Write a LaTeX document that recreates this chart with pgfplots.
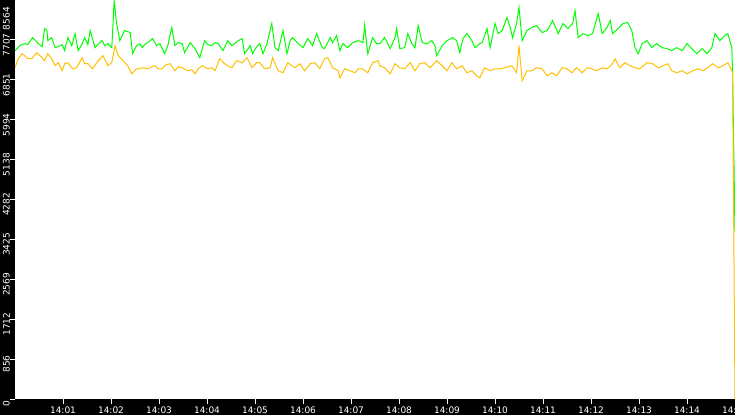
\documentclass[border=0pt]{standalone}
\usepackage{fontspec}
\setmainfont{DejaVu Sans}
\usepackage{pgfplots}
\pgfplotsset{compat=1.18}
\definecolor{grn}{RGB}{0,255,0}
\definecolor{ylw}{RGB}{255,192,0}

\begin{document}
\begin{tikzpicture}
\fill[black] (-15bp,-16bp) rectangle (720bp,399bp);
\begin{axis}[
  at={(0,0)}, anchor=south west,
  scale only axis, width=720bp, height=399bp,
  xmin=0, xmax=900, ymin=0, ymax=8564,
  axis background/.style={fill=white},
  axis line style={draw=none},
  tick pos=left, tick align=outside,
  major tick length=5bp,
  tick style={white, line width=1bp},
  xtick={60,120,180,240,300,360,420,480,540,600,660,720,780,840,900},
  xticklabels={14:01,14:02,14:03,14:04,14:05,14:06,14:07,14:08,14:09,14:10,14:11,14:12,14:13,14:14,14:15},
  ytick={0,856,1712,2569,3425,4282,5138,5994,6851,7707},
  yticklabels={0,856,1712,2569,3425,4282,5138,5994,6851,7707},
  extra y ticks={8564}, extra y tick labels={8564},
  extra y tick style={yticklabel style={anchor=south east, xshift=-2bp}},
  tick label style={font=\fontsize{9bp}{9bp}\selectfont, text=white, inner sep=0pt},
  y tick label style={rotate=90, anchor=south, xshift=-5bp},
  x tick label style={anchor=north, yshift=-3bp},
]
% green series
\addplot[grn, line width=1bp] coordinates {
(0,7477)(6,7584)(12,7628)(16,7606)(22,7757)(29,7628)(34,7563)(37,7951)(40,7908)(41,7692)
(46,7757)(50,7541)(54,7563)(59,7606)(62,7477)(66,7757)(71,7584)(75,7843)(79,7477)(84,7628)
(87,7757)(91,7606)(94,7908)(100,7541)(106,7649)(109,7692)(112,7584)(116,7628)(121,7541)(124,8555)
(127,8059)(131,7692)(137,7908)(144,7865)(147,7412)(152,7584)(156,7628)(159,7541)(162,7606)(166,7649)
(172,7735)(177,7584)(181,7628)(187,7412)(191,7584)(196,7973)(200,7584)(204,7649)(209,7628)(212,7433)
(219,7649)(225,7520)(231,7326)(237,7692)(241,7606)(246,7584)(250,7649)(254,7628)(260,7477)(266,7692)
(271,7584)(275,7628)(279,7692)(284,7735)(287,7412)(294,7584)(297,7412)(302,7563)(306,7628)(310,7412)
(315,7628)(321,8059)(325,7541)(329,7477)(335,7908)(340,7412)(344,7692)(347,7757)(354,7628)(360,7541)
(366,7735)(372,7584)(377,7843)(384,7541)(387,7520)(394,7757)(397,7649)(402,7800)(406,7477)(410,7628)
(416,7541)(422,7649)(429,7692)(435,7649)(437,8016)(441,7412)(447,7757)(452,7628)(456,7628)(462,7757)
(469,7520)(475,7757)(477,7951)(481,7520)(487,7541)(491,7843)(496,7628)(500,7541)(504,8016)(509,7649)
(515,7628)(521,7692)(525,7584)(527,7369)(534,7584)(540,7692)(547,7757)(552,7692)(556,7433)(560,7735)
(565,7843)(571,7692)(575,7541)(581,7628)(584,7649)(590,7951)(594,7541)(600,8059)(604,7843)(609,7908)
(615,8188)(619,7973)(622,7757)(627,8059)(630,8404)(634,7692)(640,7908)(646,7973)(652,8016)(659,7865)
(665,7908)(669,8016)(672,8124)(679,7843)(685,8059)(691,7951)(697,8059)(700,8339)(704,7757)(710,7843)
(716,7800)(722,7843)(729,8275)(734,7843)(740,7973)(744,8124)(747,7843)(754,7951)(760,8059)(766,8080)
(771,7908)(775,7541)(779,7412)(784,7628)(790,7692)(796,7541)(802,7628)(809,7541)(815,7520)(821,7477)
(827,7541)(834,7477)(840,7628)(846,7520)(852,7412)(859,7520)(865,7412)(871,7541)(875,7843)(881,7692)
(887,7800)(891,7843)(896,7541)(897,7002)(900,3594)
};
% yellow series
\addplot[ylw, line width=1bp] coordinates {
(0,7110)(4,7304)(9,7412)(12,7369)(16,7304)(21,7304)(27,7433)(34,7326)(37,7261)(41,7412)
(46,7304)(50,7153)(54,7218)(59,7045)(62,7196)(66,7218)(72,7088)(77,7110)(84,7326)(87,7196)
(91,7196)(97,7088)(104,7261)(110,7369)(116,7153)(121,7218)(125,7584)(129,7369)(135,7261)(141,7153)
(146,6980)(152,7088)(156,7088)(159,7110)(166,7088)(171,7131)(175,7153)(179,7088)(184,7088)(189,7175)
(194,7196)(200,7045)(204,7131)(209,7110)(216,7045)(221,7067)(225,6980)(229,7088)(234,7153)(241,7088)
(246,7110)(250,7045)(256,7304)(262,7196)(266,7153)(271,7110)(277,7261)(284,7218)(290,7326)(296,7110)
(302,7218)(306,7218)(312,7088)(319,7110)(322,7326)(329,7045)(335,7002)(341,7218)(346,7153)(350,7110)
(356,7196)(362,7045)(369,7196)(375,7218)(381,7088)(387,7304)(391,7326)(397,7110)(404,7045)(406,6894)
(412,7088)(419,7045)(425,7002)(429,7088)(434,7088)(441,7002)(447,7218)(454,7261)(456,7153)(462,7110)
(469,6980)(475,7196)(481,7110)(487,7088)(494,7218)(500,7045)(506,7196)(512,7218)(519,7110)(527,7261)
(534,7153)(540,7045)(546,7218)(552,7088)(559,7153)(565,7002)(571,7045)(577,6937)(581,6894)(587,7110)
(594,7045)(600,7088)(606,7088)(612,7110)(621,7153)(627,7002)(630,7584)(634,6829)(640,7045)(646,7045)
(652,7110)(659,7088)(665,6937)(671,7002)(677,6937)(684,7110)(690,7088)(696,7002)(702,7110)(709,7002)
(715,7110)(721,7088)(727,7045)(734,7110)(740,7088)(746,7175)(750,7304)(756,7110)(762,7218)(769,7153)
(775,7110)(781,7088)(790,7218)(797,7196)(804,7110)(810,7153)(816,7196)(821,7045)(827,7002)(834,7045)
(840,6980)(847,7045)(854,7088)(860,7045)(866,7110)(872,7196)(879,7110)(885,7153)(891,7218)(896,7045)
(897,7002)(900,0)
};
\end{axis}
\pgfresetboundingbox
\path (-15bp,-16bp) rectangle (720bp,399bp);
\end{tikzpicture}
\end{document}
